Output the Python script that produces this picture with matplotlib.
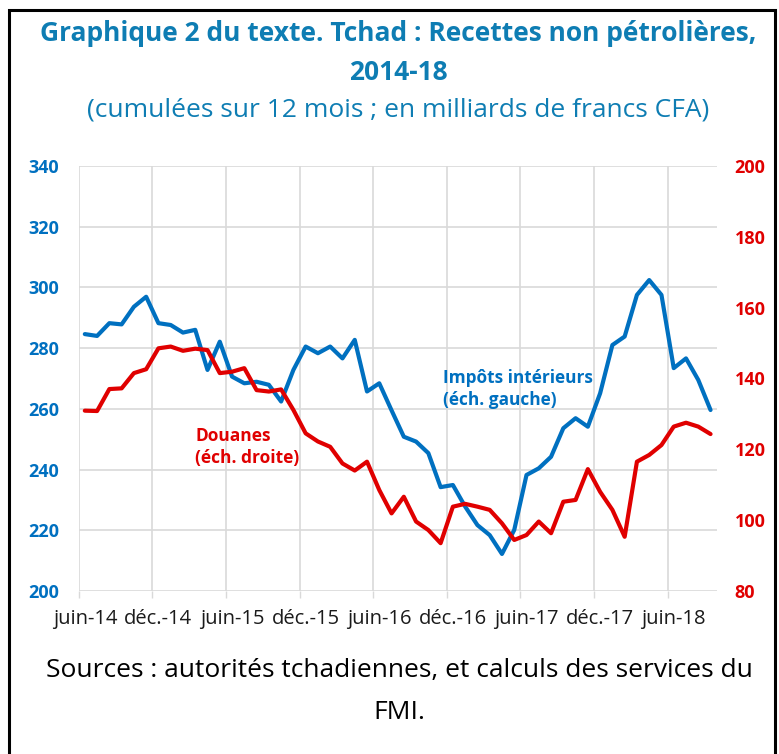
import numpy as np
import matplotlib.pyplot as plt
from matplotlib.patches import Rectangle

plt.rcParams['font.family'] = ['Open Sans', 'DejaVu Sans']

# monthly data, juin-2014 .. sept-2018
impots = [284.6, 284.0, 288.2, 287.8, 293.6, 296.9, 288.2, 287.6, 285.1, 286.0,
          272.8, 282.1, 270.6, 268.4, 268.9, 267.9, 262.4, 272.8, 280.5, 278.3,
          280.5, 276.6, 282.7, 265.7, 268.4, 259.5, 250.8, 249.2, 245.4, 234.2,
          234.9, 227.8, 221.7, 218.4, 212.2, 220.1, 238.2, 240.4, 244.2, 253.6,
          256.9, 254.1, 265.1, 281.0, 283.8, 297.5, 302.4, 297.5, 273.4, 276.6,
          269.5, 259.6]
douanes = [130.9, 130.8, 137.0, 137.2, 141.5, 142.6, 148.5, 149.0, 147.8, 148.4,
           148.0, 141.5, 141.9, 142.9, 136.7, 136.3, 136.9, 131.1, 124.5, 122.2,
           120.7, 116.0, 114.0, 116.5, 108.5, 101.9, 106.6, 99.6, 97.2, 93.5,
           103.8, 104.6, 103.8, 102.9, 99.1, 94.4, 95.8, 99.6, 96.3, 105.2,
           105.7, 114.4, 108.0, 102.9, 95.3, 116.5, 118.4, 121.2, 126.4, 127.5,
           126.4, 124.3]
tick_labels = ['juin-14', 'déc.-14', 'juin-15', 'déc.-15', 'juin-16',
               'déc.-16', 'juin-17', 'déc.-17', 'juin-18']

BLUE = '#0070C0'
RED = '#E00000'
TITLE = '#0E7DB3'

x = np.arange(len(impots))

fig = plt.figure(figsize=(7.79, 7.54), dpi=100)
ax = fig.add_axes([0.101, 0.2162, 0.819, 0.5638])
ax2 = ax.twinx()

ax.plot(x, impots, color=BLUE, lw=3, solid_joinstyle='round', solid_capstyle='round', zorder=3)
ax2.plot(x, douanes, color=RED, lw=3, solid_joinstyle='round', solid_capstyle='round', zorder=3)

ax.set_xlim(-0.5, len(x) - 0.5)
ax.set_ylim(200, 340)
ax2.set_ylim(80, 200)
ax.set_yticks(np.arange(200, 341, 20))
ax2.set_yticks(np.arange(80, 201, 20))

# gridlines / tick marks on month boundaries, labels centred on the month
ax.set_xticks(np.arange(-0.5, len(x), 6))
ax.set_xticklabels([])
ax.set_xticks(np.arange(0, len(x), 6), minor=True)
ax.set_xticklabels(tick_labels, minor=True)
ax.tick_params(axis='x', which='major', length=5, color='#D9D9D9', width=1)
ax.tick_params(axis='x', which='minor', length=0, pad=13, labelsize=14.5, labelcolor='#1a1a1a')
ax.grid(True, which='major', color='#D9D9D9', lw=1.2)
ax.set_axisbelow(True)

ax.tick_params(axis='y', length=0, pad=14, labelsize=13, labelcolor=BLUE)
ax2.tick_params(axis='y', length=0, pad=13, labelsize=13, labelcolor=RED)
for lab in ax.get_yticklabels() + ax2.get_yticklabels():
    lab.set_fontweight('bold')

for a in (ax, ax2):
    for s in a.spines.values():
        s.set_visible(False)

ax.text(0.571, 0.476, 'Impôts intérieurs\n(éch. gauche)', transform=ax.transAxes,
        color=BLUE, fontsize=12.4, fontweight='bold', va='center', ha='left', linespacing=1.3)
ax.text(0.183, 0.338, 'Douanes\n(éch. droite)', transform=ax.transAxes,
        color=RED, fontsize=12.5, fontweight='bold', va='center', ha='left', linespacing=1.3)

fig.text(0.511, 0.956, 'Graphique 2 du texte. Tchad : Recettes non pétrolières,',
         ha='center', va='center', fontsize=19, fontweight='bold', color=TITLE)
fig.text(0.511, 0.904, '2014-18', ha='center', va='center', fontsize=19,
         fontweight='bold', color=TITLE)
fig.text(0.511, 0.854, '(cumulées sur 12 mois ; en milliards de francs CFA)',
         ha='center', va='center', fontsize=19, color=TITLE)

fig.text(0.513, 0.111, 'Sources : autorités tchadiennes, et calculs des services du',
         ha='center', va='center', fontsize=19, color='black')
fig.text(0.513, 0.055, 'FMI.', ha='center', va='center', fontsize=19, color='black')

fig.patches.append(Rectangle((9 / 779, -0.05), 766 / 779, 1.05 - 10 / 754,
                             transform=fig.transFigure, fill=False, lw=2.2,
                             edgecolor='black', figure=fig))

fig.savefig('out.png', dpi=100)
